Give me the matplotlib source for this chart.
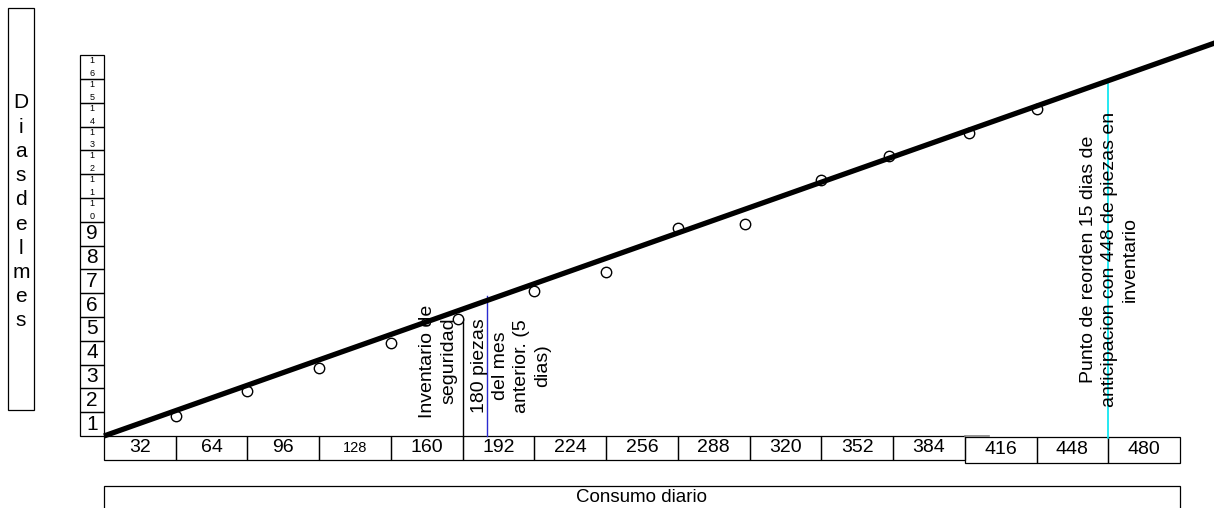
import matplotlib
matplotlib.use("Agg")
import matplotlib.pyplot as plt
from matplotlib.patches import Rectangle

plt.rcParams['font.family'] = ['Liberation Sans', 'DejaVu Sans']

# ---- data ----
consumo_ticks = [32, 64, 96, 128, 160, 192, 224, 256, 288, 320, 352, 384, 416, 448, 480]
dias_ticks = list(range(1, 17))
obs_consumo = [32, 64, 96, 128, 158, 192, 224, 256, 286, 320, 350, 386, 416]
obs_dias = [0.85, 1.89, 2.87, 3.89, 4.90, 6.11, 6.90, 8.73, 8.92, 10.76, 11.76, 12.74, 13.74]
recta_consumo = [0, 496]
recta_dias = [0, 16.53]
seguridad_consumo = 160
seguridad_dias = 4.9
mes_anterior_consumo = 171
mes_anterior_dias = 5.88
reorden_consumo = 448
reorden_dias = 14.95

W, H = 1214, 508
fig = plt.figure(figsize=(W / 100, H / 100), dpi=100)

def fx(px):
    return px / W

def fy(py):
    return 1 - py / H

ax = fig.add_axes([fx(104), fy(436), fx(1180) - fx(104), fy(55.2) - fy(436)])
ax.set_xlim(0, 480)
ax.set_ylim(0, 16)
ax.axis('off')

px_x = 1076 / 480.0   # pixels per unit of consumo
px_y = 380.8 / 16.0   # pixels per day

# y-axis cells (days)
cw = 24 / px_x
for d in dias_ticks:
    ax.add_patch(Rectangle((-cw, d - 1), cw, 1, fill=False, ec='black', lw=0.9, clip_on=False))
    if d < 10:
        ax.text(-cw / 2, d - 0.5, str(d), ha='center', va='center', fontsize=15, clip_on=False)
    else:
        ax.text(-cw / 2, d - 0.5, "\n".join(str(d)), ha='center', va='center', fontsize=6.5,
                linespacing=1.55, clip_on=False)

# x-axis cells (consumo)
rh = 24 / px_y
for i, c in enumerate(consumo_ticks):
    x0 = c - 32
    y0 = -rh
    if c >= 416:
        y0 = -rh - 3 / px_y
    ax.add_patch(Rectangle((x0, y0), 32, rh + (2 / px_y if c >= 416 else 0), fill=False,
                           ec='black', lw=0.9, clip_on=False))
    fs = 10.5 if c == 128 else 14
    ax.text(x0 + 16, y0 + rh / 2 + (1 / px_y if c >= 416 else 0), str(c), ha='center', va='center',
            fontsize=fs, clip_on=False)
ax.plot([384, 395], [0, 0], color='#808080', lw=1.2, clip_on=False)

# reference lines
ax.plot([seguridad_consumo, seguridad_consumo], [0, seguridad_dias], color='black', lw=1.0, clip_on=False)
ax.plot([mes_anterior_consumo, mes_anterior_consumo], [0, mes_anterior_dias], color='#2a2ad0', lw=1.0, clip_on=False)
ax.plot([reorden_consumo, reorden_consumo], [-2 / px_y, reorden_dias], color='#00e5f0', lw=1.2, clip_on=False)

# main line and points
ax.plot(obs_consumo, obs_dias, linestyle='none', marker='o', ms=7.5, mfc='white', mec='black',
        mew=1.0, clip_on=False, zorder=3)
ax.plot(recta_consumo, recta_dias, color='black', lw=3.8, solid_capstyle='butt', clip_on=False, zorder=4)

# annotations
ax.text((438 - 104) / px_x, (436 - 361) / px_y, "Inventario de\nseguridad", rotation=90,
        ha='center', va='center', multialignment='center', fontsize=14, linespacing=1.3, zorder=5)
ax.text((511 - 104) / px_x, (436 - 366) / px_y, "180 piezas\ndel mes\nanterior. (5\ndias)", rotation=90,
        ha='center', va='center', multialignment='center', fontsize=14, linespacing=1.3, zorder=5)
ax.text((1109 - 104) / px_x, (436 - 259) / px_y,
        "Punto de reorden 15 dias de\nanticipacion con 448 de piezas en\ninventario", rotation=90,
        ha='center', va='center', multialignment='center', fontsize=14, linespacing=1.3, zorder=5)

# left title box
fig.patches.append(Rectangle((fx(8), fy(410)), fx(34) - fx(8), fy(8) - fy(410), fill=False, ec='black',
                             lw=0.9, transform=fig.transFigure, figure=fig))
for i, ch in enumerate("Diasdelmes"):
    fig.text(fx(21), fy(103 + i * 24.2), ch, ha='center', va='center', fontsize=15)

# bottom label box
fig.patches.append(Rectangle((fx(104), fy(515)), fx(1180) - fx(104), fy(486) - fy(515), fill=False,
                             ec='black', lw=0.9, transform=fig.transFigure, figure=fig))
fig.text(fx(641), fy(498), "Consumo diario", ha='center', va='center', fontsize=13.5)

fig.savefig("out.png", dpi=100)
